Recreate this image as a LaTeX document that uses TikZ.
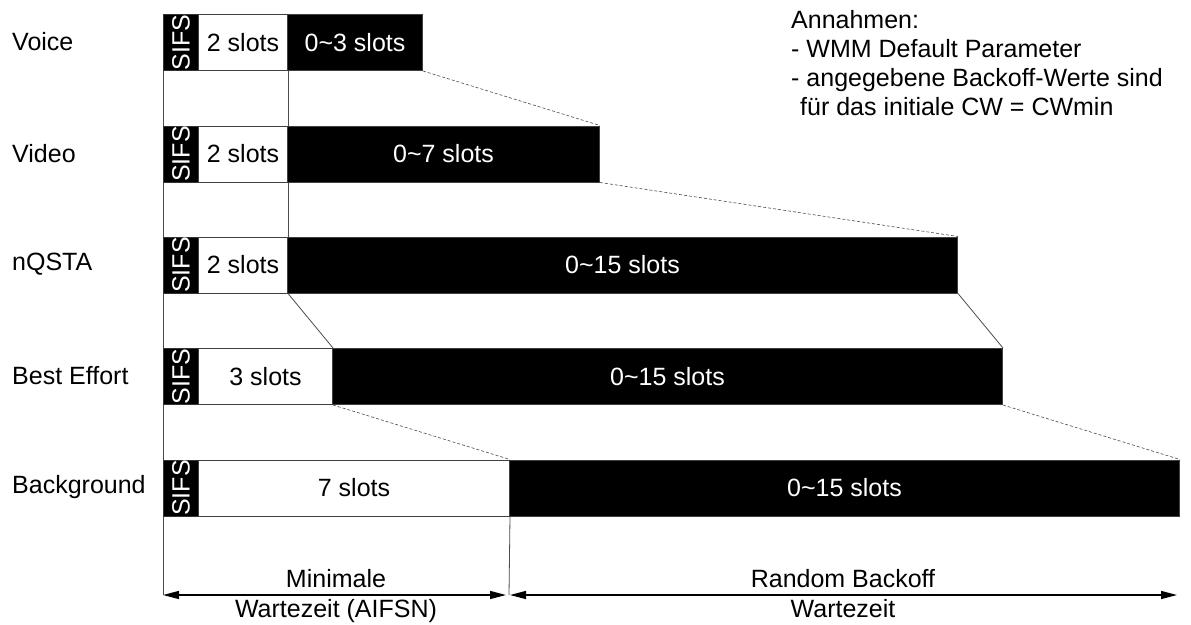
\documentclass[tikz,border=0pt]{standalone}
\usepackage{fontspec}
\setmainfont{Liberation Sans}
\usetikzlibrary{arrows.meta}
\begin{document}
\begin{tikzpicture}[x=1pt,y=-1pt,
  font=\fontsize{25}{29}\selectfont,
  lab/.style={anchor=west,inner sep=0pt},
  sifsbox/.style={fill=black,draw=black!80,line width=1pt,text=white,inner sep=0pt,anchor=north west,minimum width=35pt,minimum height=56pt},
  wbox/.style={fill=white,draw=black!75,line width=1pt,inner sep=0pt,anchor=north west,minimum height=56pt},
  bbox/.style={fill=black,draw=black!75,line width=1pt,text=white,inner sep=0pt,anchor=north west,minimum height=56pt},
  vline/.style={draw=black!70,line width=0.8pt},
  diag/.style={draw=black!70,line width=0.6pt,densely dashed},
  dimarr/.style={line width=1.4pt,{Triangle[length=16pt,width=8pt]}-{Triangle[length=16pt,width=8pt]}},
  note/.style={anchor=north west,inner sep=0pt,align=left}
]
\useasboundingbox (0,0) rectangle (1191,624);

\newcommand\qosrow[7]{%
  \node[lab] (#1lab) at (12,#3+28) {#2};
  \node[sifsbox] (#1s) at (163,#3) {\rotatebox{90}{SIFS}};
  \node[wbox,minimum width=#4-198] (#1w) at (198,#3) {#6};
  \node[bbox,minimum width=#5-#4] (#1b) at (#4,#3) {#7};
}

\coordinate (botL) at (163,595);
\coordinate (botM) at (509,595);
\coordinate (botR) at (1179,595);

\qosrow{vo}{Voice}{14}{287}{422}{2 slots}{0\textasciitilde 3 slots}
\qosrow{vi}{Video}{125.5}{287}{599}{2 slots}{0\textasciitilde 7 slots}
\qosrow{nq}{nQSTA}{236.5}{287}{957}{2 slots}{0\textasciitilde 15 slots}
\qosrow{be}{Best Effort}{348}{332}{1002}{3 slots}{0\textasciitilde 15 slots}
\qosrow{bg}{Background}{459.5}{509}{1179}{7 slots}{0\textasciitilde 15 slots}

% left line
\draw[vline] (vos.south west) -- (vis.north west);
\draw[vline] (vis.south west) -- (nqs.north west);
\draw[vline] (nqs.south west) -- (bes.north west);
\draw[vline] (bes.south west) -- (bgs.north west);
\draw[vline] (bgs.south west) -- (botL);
% AIFSN lines
\draw[vline] (vow.south east) -- (viw.north east);
\draw[vline] (viw.south east) -- (nqw.north east);
\draw[vline] (nqw.south east) -- (bew.north east);
\draw[diag] (bew.south east) -- (bgw.north east);
\draw[vline] (bgw.south east) -- (botM);
% backoff ends
\draw[diag] (vob.south east) -- (vib.north east);
\draw[diag] (vib.south east) -- (nqb.north east);
\draw[vline] (nqb.south east) -- (beb.north east);
\draw[diag] (beb.south east) -- (bgb.north east);

% dimension arrows
\draw[dimarr] (botL) -- ([xshift=-3pt]botM);
\draw[dimarr] ([xshift=1pt]botM) -- ([xshift=-2pt]botR);

\node[anchor=base,inner sep=0pt] (mintop) at (336,587) {Minimale};
\node[anchor=base,inner sep=0pt] (minbot) at (336,617) {Wartezeit (AIFSN)};
\node[anchor=base,inner sep=0pt] (rndtop) at (843,587) {Random Backoff};
\node[anchor=base,inner sep=0pt] (rndbot) at (843,617) {Wartezeit};

\node[note] (annahmen) at (791,10) {Annahmen:\\- WMM Default Parameter\\- angegebene Backoff-Werte sind\\\hspace*{9pt}für das initiale CW = CWmin};
\end{tikzpicture}
\end{document}
